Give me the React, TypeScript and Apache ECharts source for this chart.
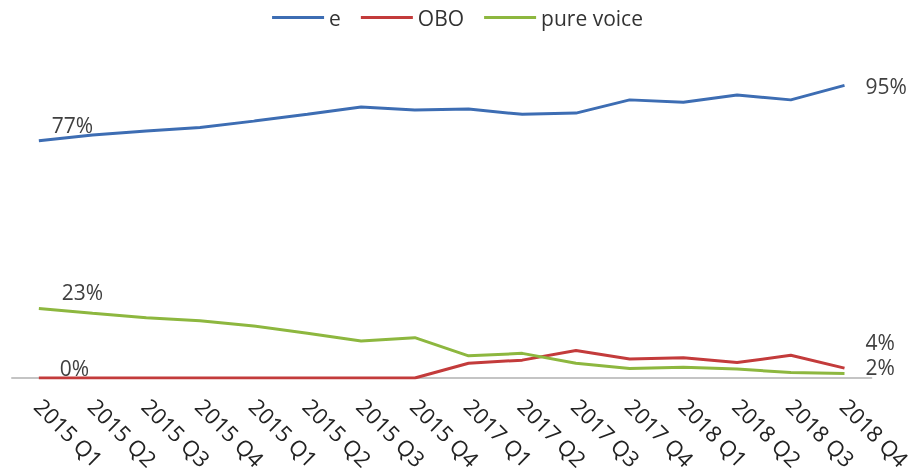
import React, { useEffect, useRef } from "react";
import * as echarts from "echarts";

const categories = [
  "2015 Q1", "2015 Q2", "2015 Q3", "2015 Q4",
  "2015 Q1", "2015 Q2", "2015 Q3", "2015 Q4",
  "2017 Q1", "2017 Q2", "2017 Q3", "2017 Q4",
  "2018 Q1", "2018 Q2", "2018 Q3", "2018 Q4",
];
const seriesNames = ["e", "OBO", "pure voice"];
const eValues = [77, 78.9, 80.2, 81.3, 83.4, 85.6, 88, 87, 87.3, 85.6, 86, 90.3, 89.5, 91.9, 90.3, 95];
const oboValues = [0, 0, 0, 0, 0, 0, 0, 0, 4.8, 5.8, 8.9, 6.2, 6.6, 5, 7.4, 3.2];
const voiceValues = [22.6, 21, 19.6, 18.6, 16.9, 14.5, 12, 13.1, 7.2, 8, 4.8, 3.1, 3.5, 2.9, 1.8, 1.5];
const startLabels = ["77%", "0%", "23%"];
const endLabels = ["95%", "4%", "2%"];
const colors = ["#3D6DB3", "#C33B3B", "#8DB73F"];

const FONT = "'Open Sans', 'Noto Sans', sans-serif";

function buildData(values: number[], idx: number, startOff: number[], endOff: number[]) {
  return values.map((v, i) => {
    if (i === 0 || i === values.length - 1) {
      const first = i === 0;
      return {
        value: v,
        label: {
          show: true,
          position: "right",
          distance: 0,
          offset: first ? startOff : endOff,
          formatter: first ? startLabels[idx] : endLabels[idx],
          color: "#404040",
          fontSize: 21,
          fontFamily: FONT,
        },
      };
    }
    return v;
  });
}

export default function App() {
  const ref = useRef<HTMLDivElement>(null);
  useEffect(() => {
    if (!ref.current) return;
    const chart = echarts.init(ref.current, null, { renderer: "svg" });
    const valueSets = [eValues, oboValues, voiceValues];
    const startOffs = [[13, -16], [21, -10], [23, -16]];
    const endOffs = [[21, 1], [21, -26], [21, -6]];
    chart.setOption({
      animation: false,
      color: colors,
      legend: {
        top: 2,
        left: "center",
        icon: "rect",
        itemWidth: 52,
        itemHeight: 3,
        itemGap: 20,
        textStyle: { fontSize: 21, fontFamily: FONT, color: "#333" },
        data: seriesNames,
      },
      grid: { left: 12, right: 43, top: 70, height: 308 },
      xAxis: {
        type: "category",
        data: categories,
        boundaryGap: true,
        axisLine: { show: true, lineStyle: { color: "#c4c4c4", width: 2 } },
        axisTick: { show: false },
        axisLabel: {
          interval: 0,
          rotate: -45,
          margin: 24,
          fontSize: 22,
          fontFamily: FONT,
          color: "#222",
        },
      },
      yAxis: {
        type: "value",
        min: 0,
        max: 100,
        show: false,
        splitLine: { show: false },
      },
      series: seriesNames.map((name, idx) => ({
        name,
        type: "line",
        data: buildData(valueSets[idx], idx, startOffs[idx], endOffs[idx]),
        symbol: "circle",
        symbolSize: 0,
        showSymbol: true,
        lineStyle: { width: 3, color: colors[idx] },
        itemStyle: { color: colors[idx] },
        z: idx === 0 ? 3 : 2,
      })),
    });
    return () => chart.dispose();
  }, []);
  return (
    <div
      ref={ref}
      style={{ position: "fixed", left: 0, top: 0, width: 915, height: 474 }}
    />
  );
}
